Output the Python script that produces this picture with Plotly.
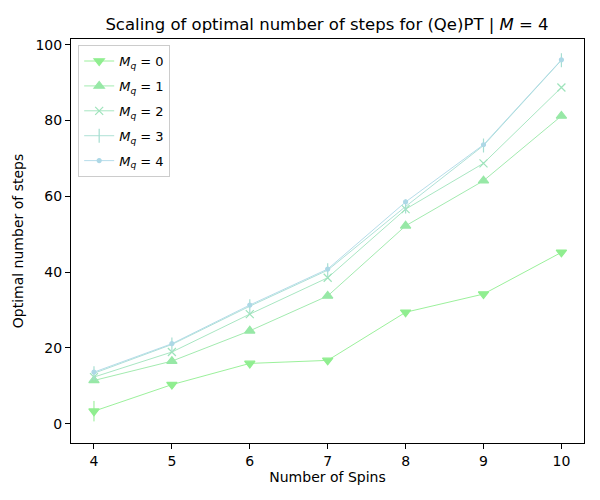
import plotly.graph_objects as go

spins = [4, 5, 6, 7, 8, 9, 10]
steps_mq0 = [3.3, 10.3, 15.9, 16.7, 29.4, 34.2, 45.2]
steps_mq1 = [11.4, 16.5, 24.5, 33.7, 52.2, 64.1, 81.2]
steps_mq2 = [12.3, 18.9, 28.9, 38.5, 56.6, 68.7, 88.7]
steps_mq3 = [13.3, 20.9, 31.0, 40.5, 57.3, 73.4, 95.9]
steps_mq4 = [13.6, 21.1, 31.3, 40.8, 58.5, 73.6, 96.0]
err_mq0 = [2.7, 0.2, 0.2, 0.2, 0.2, 0.2, 0.2]
err_mq1 = [0.2, 0.2, 0.2, 0.2, 0.2, 0.2, 0.2]
err_mq2 = [0.2, 0.2, 0.2, 0.2, 0.2, 0.2, 0.2]
err_mq3 = [0.3, 0.3, 0.3, 0.3, 0.3, 0.3, 0.3]
err_mq4 = [0.3, 0.3, 0.3, 0.3, 0.3, 0.3, 0.3]
mq_labels = ["0", "1", "2", "3", "4"]

series = [steps_mq0, steps_mq1, steps_mq2, steps_mq3, steps_mq4]
errors = [err_mq0, err_mq1, err_mq2, err_mq3, err_mq4]
colors = ["#90EE90", "#97E8A6", "#9EE3BB", "#A6DED1", "#ADD8E6"]
symbols = ["triangle-down", "triangle-up", "x-thin-open", "line-ns-open", "circle"]
sizes = [9, 9, 8, 10, 4]

fig = go.Figure()
for ys, es, c, s, sz, lab in zip(series, errors, colors, symbols, sizes, mq_labels):
    fig.add_trace(go.Scatter(
        x=spins, y=ys, mode="lines+markers",
        name=f"<i>M</i><sub><i>q</i></sub> = {lab}",
        legendgroup=f"g{lab}",
        line=dict(color=c, width=0.9),
        marker=dict(symbol=s, size=sz, color=c, line=dict(color=c, width=1.2)),
        error_y=dict(type="data", array=es, visible=True, color=c, thickness=1, width=0),
    ))

axis_common = dict(
    showgrid=False, zeroline=False, showline=True, linecolor="black", linewidth=1,
    mirror=True, ticks="outside", ticklen=5, tickwidth=1, tickcolor="black",
    tickfont=dict(family="DejaVu Sans", size=14, color="black"),
    automargin=False,
)

W, H = 592, 492
fig.update_layout(
    width=W, height=H,
    paper_bgcolor="white", plot_bgcolor="white",
    margin=dict(l=63, r=16, t=31, b=57),
    font=dict(family="DejaVu Sans", color="black"),
    title=dict(
        text="Scaling of optimal number of steps for (Qe)PT | <i>M</i> = 4",
        x=319 / W, xanchor="center", y=1 - 16 / H, yanchor="middle",
        font=dict(family="DejaVu Sans", size=16.5, color="black"),
    ),
    xaxis=dict(
        range=[3.705, 10.29], tickvals=spins, ticktext=[str(v) for v in spins],
        title=dict(text="Number of Spins", font=dict(size=14), standoff=3),
        **axis_common,
    ),
    yaxis=dict(
        range=[-5.1, 101.5], tickvals=[0, 20, 40, 60, 80, 100],
        title=dict(text="Optimal number of steps", font=dict(size=14), standoff=8),
        **axis_common,
    ),
    legend=dict(
        x=0.014, y=0.985, xanchor="left", yanchor="top",
        bgcolor="rgba(255,255,255,0.8)", bordercolor="#cccccc", borderwidth=1,
        font=dict(family="DejaVu Sans", size=13, color="black"),
        tracegroupgap=5, itemwidth=30,
    ),
)

fig.write_html("out.html")
